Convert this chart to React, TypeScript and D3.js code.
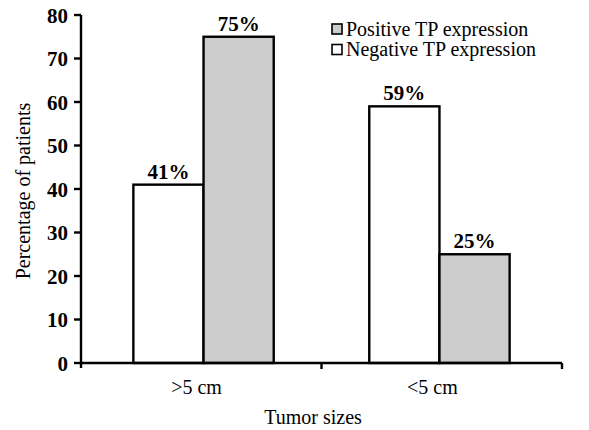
import React from "react";
import * as d3 from "d3";

const categories = [">5 cm", "<5 cm"];
const seriesNames = ["Negative TP expression", "Positive TP expression"];
const negativeValues = [41, 59];
const positiveValues = [75, 25];
const valueLabels = [["41%", "59%"], ["75%", "25%"]];
const yTicks = [0, 10, 20, 30, 40, 50, 60, 70, 80];
const legendItems = ["Positive TP expression", "Negative TP expression"];
const legendFills = ["#cccccc", "#ffffff"];

const W = 589;
const H = 430;
const left = 81;
const right = 562;
const top = 15;
const bottom = 363;
const FONT = "'Liberation Serif', 'Times New Roman', serif";

export default function App() {
  const x0 = d3
    .scaleBand<string>()
    .domain(categories)
    .range([left, right])
    .paddingInner(0.405)
    .paddingOuter(0.222);
  const x1 = d3.scaleBand<string>().domain(seriesNames).range([0, x0.bandwidth()]).padding(0);
  const y = d3.scaleLinear().domain([0, 80]).range([bottom, top]);
  const seriesValues = [negativeValues, positiveValues];
  const fills = ["#ffffff", "#cccccc"];
  const midTick = (x0(categories[0]) ?? 0) + x0.bandwidth() + (x0.step() - x0.bandwidth()) / 2;

  return (
    <svg width={W} height={H} style={{ position: "absolute", left: 0, top: 0, background: "#fff" }}>
      <rect x={0} y={0} width={W} height={H} fill="#fff" />
      {categories.map((c, ci) =>
        seriesNames.map((s, si) => {
          const v = seriesValues[si][ci];
          const bx = (x0(c) ?? 0) + (x1(s) ?? 0);
          return (
            <g key={c + s}>
              <rect
                x={bx}
                y={y(v)}
                width={x1.bandwidth()}
                height={y(0) - y(v)}
                fill={fills[si]}
                stroke="#000"
                strokeWidth={2.4}
              />
              <text
                x={bx + x1.bandwidth() / 2}
                y={y(v) - 6}
                textAnchor="middle"
                fontFamily={FONT}
                fontWeight="bold"
                fontSize={21}
              >
                {valueLabels[si][ci]}
              </text>
            </g>
          );
        })
      )}
      {/* y axis */}
      <line x1={left} x2={left} y1={top} y2={bottom + 5} stroke="#000" strokeWidth={2.4} />
      {yTicks.map((t) => (
        <g key={t}>
          <line x1={left - 7} x2={left} y1={y(t)} y2={y(t)} stroke="#000" strokeWidth={2.4} />
          <text
            x={left - 13}
            y={y(t)}
            dy="0.36em"
            textAnchor="end"
            fontFamily={FONT}
            fontWeight="bold"
            fontSize={21}
          >
            {t}
          </text>
        </g>
      ))}
      {/* x axis */}
      <line x1={left} x2={right} y1={bottom} y2={bottom} stroke="#000" strokeWidth={2.4} />
      {[midTick, right].map((tx, i) => (
        <line key={i} x1={tx} x2={tx} y1={bottom} y2={bottom + 6} stroke="#000" strokeWidth={2.4} />
      ))}
      {categories.map((c) => (
        <text
          key={c}
          x={(x0(c) ?? 0) + x0.bandwidth() / 2 - 7}
          y={394}
          textAnchor="middle"
          fontFamily={FONT}
          fontSize={20}
        >
          {c}
        </text>
      ))}
      <text x={313} y={424} textAnchor="middle" fontFamily={FONT} fontSize={20}>
        Tumor sizes
      </text>
      <text
        transform={`translate(30, ${(top + bottom) / 2 + 2}) rotate(-90)`}
        textAnchor="middle"
        fontFamily={FONT}
        fontSize={20}
      >
        Percentage of patients
      </text>
      {legendItems.map((l, i) => (
        <g key={l} transform={`translate(332, ${29 + i * 20.5})`}>
          <rect x={0} y={-5} width={10} height={10} fill={legendFills[i]} stroke="#000" strokeWidth={1.6} />
          <text x={14} y={0} dy="0.33em" fontFamily={FONT} fontSize={20}>
            {l}
          </text>
        </g>
      ))}
    </svg>
  );
}
